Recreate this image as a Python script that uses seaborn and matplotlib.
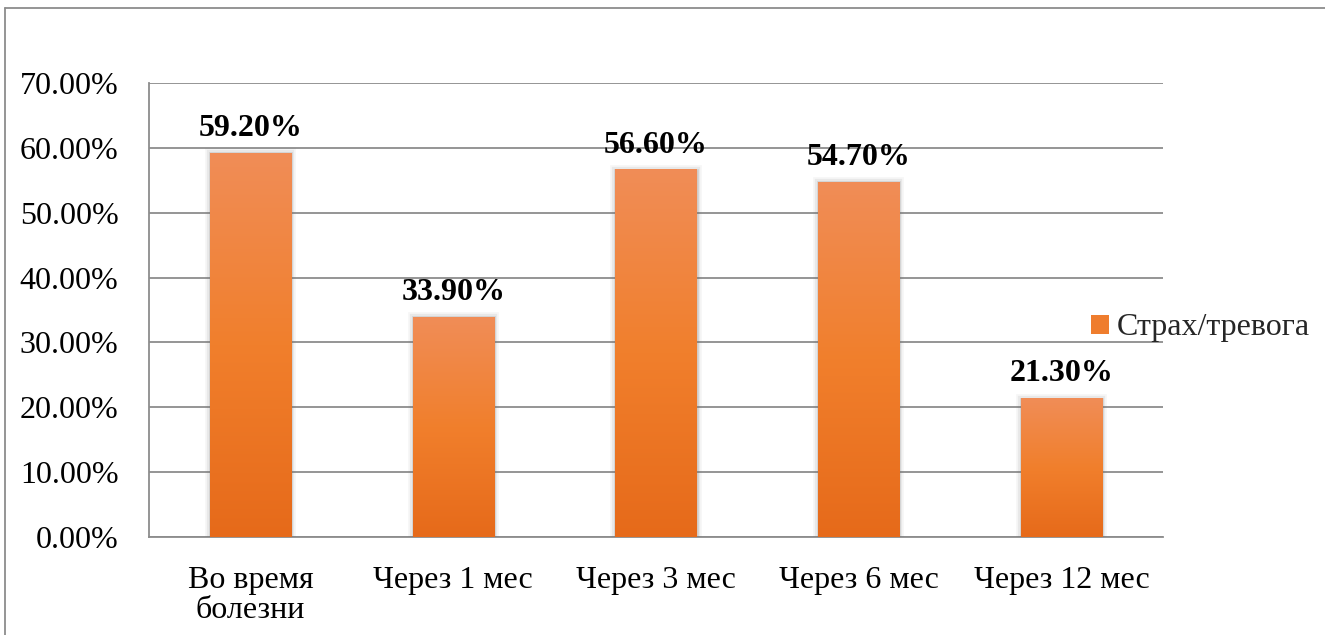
import numpy as np
import pandas as pd
import matplotlib
matplotlib.use("Agg")
import matplotlib.pyplot as plt
import matplotlib.patheffects as pe
from matplotlib.patches import Patch
from matplotlib.lines import Line2D
from matplotlib.colors import LinearSegmentedColormap
from matplotlib.ticker import FuncFormatter, MultipleLocator
import seaborn as sns

categories = ["Во время\nболезни", "Через 1 мес", "Через 3 мес", "Через 6 мес", "Через 12 мес"]
values = [59.20, 33.90, 56.60, 54.70, 21.30]
series_name = "Страх/тревога"

sns.set_theme(style="white")
plt.rcParams["font.family"] = ["Liberation Serif", "DejaVu Serif"]

df = pd.DataFrame({"period": categories, "value": values})

fig = plt.figure(figsize=(13.25, 6.35), dpi=100)
ax = fig.add_axes([149 / 1325, 1 - 537 / 635, (1163 - 149) / 1325, (537 - 83) / 635])

sns.barplot(data=df, x="period", y="value", color="#EF7D2E", width=0.40,
            saturation=1, ax=ax, zorder=3)

ax.set_ylim(0, 70)
ax.set_xlim(-0.5, len(categories) - 0.5)
ax.yaxis.set_major_locator(MultipleLocator(10))
ax.yaxis.set_major_formatter(FuncFormatter(lambda v, _: f"{v:.2f}%"))
ax.grid(axis="y", color="#8c8c8c", linewidth=1.3, zorder=0)
ax.set_axisbelow(True)
for side in ["top", "right"]:
    ax.spines[side].set_visible(False)
for side in ["left", "bottom"]:
    ax.spines[side].set_color("#8c8c8c")
    ax.spines[side].set_linewidth(1.3)
ax.set_xlabel("")
ax.set_ylabel("")
ax.tick_params(axis="y", length=0, pad=22, labelsize=23, labelcolor="black")
ax.tick_params(axis="x", length=0, pad=21, labelsize=23, labelcolor="black")
for lbl in ax.get_xticklabels():
    lbl.set_linespacing(1.05)

# vertical orange gradient, lighter at top
grad_cmap = LinearSegmentedColormap.from_list("bar_grad", ["#E66A1A", "#F17F2C", "#F08D57"])
grad = np.linspace(0, 1, 256).reshape(-1, 1)

for patch, val in zip(ax.patches, values):
    x0, w, h = patch.get_x(), patch.get_width(), patch.get_height()
    # soft grey shadow around the bar
    patch.set_path_effects([
        pe.Stroke(linewidth=7, foreground="#707070", alpha=0.06),
        pe.Stroke(linewidth=4.5, foreground="#707070", alpha=0.10),
        pe.Stroke(linewidth=2, foreground="#707070", alpha=0.18),
        pe.Normal(),
    ])
    patch.set_edgecolor("none")
    ax.imshow(grad, cmap=grad_cmap, aspect="auto", origin="lower",
              extent=(x0, x0 + w, 0, h), zorder=4, interpolation="bicubic")
    ax.text(x0 + w / 2, h + 1.6, f"{val:.2f}%", ha="center", va="bottom",
            fontsize=23, fontweight="bold", color="black", zorder=5)

ax.set_xlim(-0.5, len(categories) - 0.5)
ax.set_ylim(0, 70)

handle = Patch(facecolor="#EF7D2E", edgecolor="none")
fig.legend([handle], [series_name], loc="center left",
           bbox_to_anchor=(1091 / 1325, 1 - 328 / 635), frameon=False,
           fontsize=23, handlelength=0.55, handleheight=0.55, handletextpad=0.25,
           borderaxespad=0, borderpad=0)

# outer chart frame (left and top edges)
frame_kw = dict(transform=fig.transFigure, color="#8c8c8c", linewidth=1.3)
fig.add_artist(Line2D([5 / 1325, 5 / 1325], [0, 1 - 8 / 635], **frame_kw))
fig.add_artist(Line2D([5 / 1325, 1], [1 - 8 / 635, 1 - 8 / 635], **frame_kw))

fig.savefig("out.png", dpi=100)
